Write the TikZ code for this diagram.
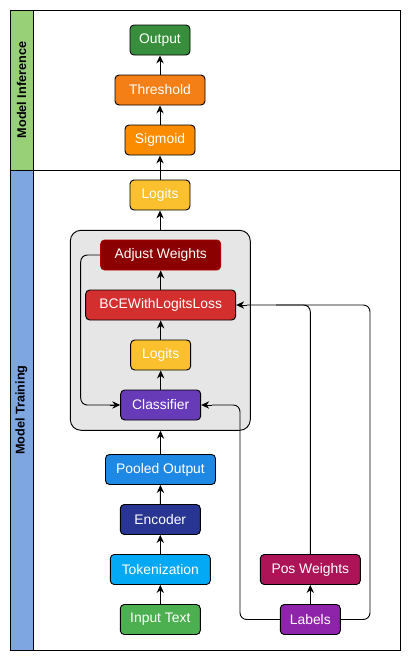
\documentclass[tikz,border=0pt]{standalone}
\usepackage{fontspec}
\setmainfont{Liberation Sans}
\usetikzlibrary{arrows.meta}
\definecolor{cinf}{HTML}{97D077}
\definecolor{ctrain}{HTML}{7EA6E0}
\definecolor{cout}{HTML}{388E3C}
\definecolor{cthr}{HTML}{F57F17}
\definecolor{csig}{HTML}{FB8C00}
\definecolor{clog}{HTML}{FBC02D}
\definecolor{cadj}{HTML}{8B0000}
\definecolor{cadjb}{HTML}{B20000}
\definecolor{cbce}{HTML}{D32F2F}
\definecolor{ccls}{HTML}{673AB7}
\definecolor{cpool}{HTML}{1E88E5}
\definecolor{cenc}{HTML}{283593}
\definecolor{ctok}{HTML}{03A9F4}
\definecolor{cin}{HTML}{4CAF50}
\definecolor{cpos}{HTML}{AD1457}
\definecolor{clab}{HTML}{8E24AA}
\definecolor{cgrp}{HTML}{E6E6E6}
\tikzset{
  box/.style={draw=black, line width=0.7pt, rounded corners=3pt, minimum height=22.5pt, text=white, font=\fontsize{10.4pt}{12pt}\selectfont, inner sep=0pt},
  conn/.style={draw=black, line width=0.7pt, -{Stealth[length=6pt,width=5.5pt]}},
  link/.style={draw=black, line width=0.7pt, rounded corners=5pt},
  lane/.style={font=\bfseries\fontsize{9.5pt}{11pt}\selectfont, rotate=90}
}
\begin{document}
\begin{tikzpicture}[x=0.75pt,y=-0.75pt]
\useasboundingbox (0,0) rectangle (411,661);
% lanes
\fill[cinf] (10,10) rectangle (33,170);
\fill[ctrain] (10,170) rectangle (33,650);
\draw[line width=0.7pt] (10,10) rectangle (400,650);
\draw[line width=0.7pt] (33,10) -- (33,650);
\draw[line width=0.7pt] (10,170) -- (400,170);
\node[lane] (linf) at (21.5,90) {Model Inference};
\node[lane] (ltr) at (21.5,410) {Model Training};
% group container
\node[draw=black, line width=0.7pt, fill=cgrp, rounded corners=8pt, minimum width=135pt, minimum height=150pt, inner sep=0pt] (grp) at (160.3,330.3) {};
% nodes
\node[box, fill=cout, minimum width=45pt] (out) at (160,40) {Output};
\node[box, fill=cthr, minimum width=67.5pt] (thr) at (160,90) {Threshold};
\node[box, fill=csig, minimum width=52.5pt] (sig) at (160,140) {Sigmoid};
\node[box, fill=clog, minimum width=45pt] (lgt) at (160,195) {Logits};
\node[box, fill=cadj, draw=cadjb, minimum width=90pt] (adj) at (160.7,255) {Adjust Weights};
\node[box, fill=cbce, minimum width=112.5pt] (bce) at (160.7,305) {BCEWithLogitsLoss};
\node[box, fill=clog, minimum width=45pt] (lgi) at (160.7,355) {Logits};
\node[box, fill=ccls, minimum width=60pt] (cls) at (160.7,405) {Classifier};
\node[box, fill=cpool, minimum width=82.5pt] (pool) at (160.5,469.5) {Pooled Output};
\node[box, fill=cenc, minimum width=60pt] (enc) at (160.3,519.5) {Encoder};
\node[box, fill=ctok, minimum width=75pt] (tok) at (160.3,569.5) {Tokenization};
\node[box, fill=cin, minimum width=60pt] (inp) at (160.3,619.5) {Input Text};
\node[box, fill=cpos, minimum width=75pt] (pos) at (310.3,569.5) {Pos Weights};
\node[box, fill=clab, minimum width=45pt] (lab) at (310.3,619.5) {Labels};
% connectors
\draw[conn] (inp) -- (tok);
\draw[conn] (tok) -- (enc);
\draw[conn] (enc) -- (pool);
\draw[conn] (pool) -- (pool|-grp.south);
\draw[conn] (cls) -- (lgi);
\draw[conn] (lgi) -- (bce);
\draw[conn] (bce) -- (adj);
\draw[conn] (lgt|-grp.north) -- (lgt);
\draw[conn] (lgt) -- (sig);
\draw[conn] (sig) -- (thr);
\draw[conn] (thr) -- (out);
\draw[conn] (lab) -- (pos);
\coordinate (aL) at (80.7,255);
\coordinate (aB) at (80.7,405);
\draw[link] (adj.west) -- (aL) -- (aB) -- ([xshift=-1pt]cls.west);
\draw[conn] ([xshift=-8pt]cls.west) -- (cls.west);
\coordinate (lL) at (240,619.5);
\coordinate (lT) at (240,405);
\draw[link] (lab.west) -- (lL) -- (lT) -- ([xshift=8pt]cls.east);
\draw[conn] ([xshift=8pt]cls.east) -- (cls.east);
\coordinate (rR) at (370,619.5);
\coordinate (rT) at (370,305);
\draw[link] (lab.east) -- (rR) -- (rT) -- ([xshift=8pt]bce.east);
\draw[conn] ([xshift=8pt]bce.east) -- (bce.east);
\coordinate (pT) at (310.3,305);
\draw[link] (pos.north) -- (pT) -- ([xshift=30pt]bce.east);
\end{tikzpicture}
\end{document}
